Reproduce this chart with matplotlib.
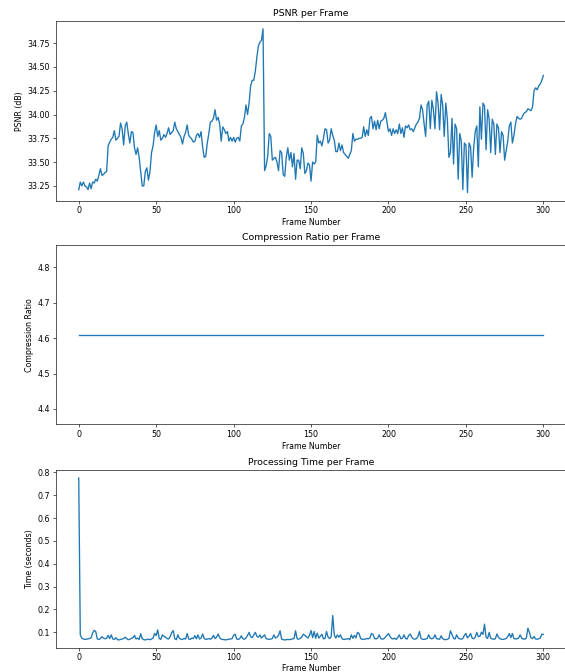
import matplotlib
matplotlib.use("Agg")
import matplotlib.pyplot as plt
import numpy as np

frames = np.arange(301)

psnr = [
    33.21, 33.29, 33.25, 33.29, 33.25, 33.24, 33.21, 33.28, 33.22, 33.29,
    33.28, 33.32, 33.30, 33.36, 33.43, 33.36, 33.37, 33.39, 33.40, 33.67,
    33.71, 33.74, 33.76, 33.83, 33.73, 33.75, 33.77, 33.91, 33.85, 33.68,
    33.88, 33.92, 33.80, 33.70, 33.82, 33.81, 33.65, 33.58, 33.65, 33.55,
    33.40, 33.25, 33.25, 33.40, 33.44, 33.31, 33.40, 33.60, 33.67, 33.81,
    33.89, 33.77, 33.83, 33.73, 33.75, 33.79, 33.76, 33.80, 33.86, 33.79,
    33.81, 33.83, 33.92, 33.85, 33.82, 33.79, 33.76, 33.69, 33.77, 33.81,
    33.89, 33.78, 33.76, 33.74, 33.71, 33.72, 33.78, 33.80, 33.76, 33.82,
    33.66, 33.55, 33.56, 33.70, 33.80, 33.92, 33.93, 33.96, 34.05, 33.94,
    33.97, 33.90, 33.72, 33.87, 33.84, 33.80, 33.82, 33.72, 33.76, 33.72,
    33.76, 33.71, 33.75, 33.76, 33.72, 33.88, 33.90, 33.97, 34.10, 34.00,
    34.12, 34.30, 34.36, 34.36, 34.45, 34.60, 34.72, 34.76, 34.78, 34.90,
    33.41, 33.46, 33.56, 33.80, 33.77, 33.52, 33.54, 33.55, 33.50, 33.41,
    33.62, 33.60, 33.37, 33.35, 33.55, 33.65, 33.52, 33.60, 33.45, 33.59,
    33.32, 33.52, 33.52, 33.43, 33.65, 33.59, 33.38, 33.41, 33.49, 33.47,
    33.30, 33.50, 33.48, 33.50, 33.78, 33.70, 33.72, 33.67, 33.75, 33.85,
    33.84, 33.70, 33.73, 33.85, 33.78, 33.73, 33.61, 33.61, 33.70, 33.62,
    33.68, 33.60, 33.58, 33.56, 33.54, 33.58, 33.62, 33.80, 33.72, 33.74,
    33.74, 33.75, 33.75, 33.76, 33.87, 33.77, 33.84, 33.78, 33.96, 33.98,
    33.85, 33.93, 33.84, 33.94, 33.85, 33.93, 33.94, 33.96, 34.02, 33.92,
    33.82, 33.85, 33.78, 33.85, 33.80, 33.84, 33.80, 33.90, 33.80, 33.86,
    33.76, 33.88, 33.86, 33.89, 33.84, 33.85, 33.82, 33.86, 33.90, 33.92,
    33.96, 34.10, 34.05, 33.90, 33.77, 34.10, 34.14, 33.85, 34.15, 34.05,
    33.85, 34.24, 34.12, 33.84, 34.21, 34.10, 33.77, 34.12, 33.95, 33.55,
    33.60, 33.96, 33.48, 33.90, 33.85, 33.32, 33.80, 33.72, 33.21, 33.70,
    33.68, 33.18, 33.70, 33.66, 33.34, 33.65, 33.82, 33.88, 33.45, 34.08,
    33.74, 34.12, 34.09, 33.63, 34.05, 33.95, 33.60, 33.95, 33.90, 33.58,
    33.90, 33.86, 33.60, 33.82, 33.78, 33.52, 33.62, 33.72, 33.88, 33.92,
    33.70, 33.78, 33.90, 33.98, 33.96, 33.95, 33.96, 34.00, 34.02, 34.03,
    34.06, 34.05, 34.04, 34.08, 34.25, 34.28, 34.26, 34.30, 34.32, 34.36,
    34.41,
]

ratio_value = 4.61
compression = [ratio_value] * len(frames)

proc_time = [
    0.775, 0.088, 0.074, 0.070, 0.068, 0.069, 0.071, 0.072, 0.075, 0.097,
    0.108, 0.102, 0.070, 0.068, 0.072, 0.080, 0.074, 0.071, 0.073, 0.086,
    0.072, 0.088, 0.070, 0.068, 0.076, 0.067, 0.066, 0.068, 0.070, 0.072,
    0.078, 0.071, 0.067, 0.069, 0.073, 0.075, 0.086, 0.070, 0.074, 0.068,
    0.093, 0.071, 0.067, 0.066, 0.068, 0.069, 0.067, 0.070, 0.074, 0.094,
    0.085, 0.110, 0.072, 0.068, 0.088, 0.082, 0.078, 0.072, 0.070, 0.080,
    0.098, 0.107, 0.071, 0.067, 0.088, 0.073, 0.069, 0.068, 0.072, 0.070,
    0.094, 0.070, 0.068, 0.074, 0.072, 0.085, 0.071, 0.088, 0.070, 0.074,
    0.092, 0.073, 0.068, 0.070, 0.072, 0.069, 0.074, 0.086, 0.072, 0.078,
    0.092, 0.076, 0.069, 0.068, 0.067, 0.066, 0.068, 0.069, 0.070, 0.072,
    0.086, 0.091, 0.070, 0.068, 0.072, 0.084, 0.071, 0.069, 0.075, 0.086,
    0.099, 0.080, 0.076, 0.088, 0.099, 0.082, 0.078, 0.088, 0.074, 0.081,
    0.088, 0.072, 0.069, 0.068, 0.070, 0.072, 0.088, 0.074, 0.078, 0.086,
    0.106, 0.070, 0.067, 0.066, 0.067, 0.068, 0.067, 0.069, 0.070, 0.072,
    0.106, 0.071, 0.069, 0.073, 0.078, 0.091, 0.086, 0.080, 0.074, 0.086,
    0.107, 0.076, 0.103, 0.073, 0.096, 0.074, 0.082, 0.091, 0.071, 0.072,
    0.103, 0.078, 0.072, 0.080, 0.173, 0.088, 0.074, 0.088, 0.078, 0.088,
    0.071, 0.068, 0.069, 0.070, 0.072, 0.067, 0.088, 0.073, 0.086, 0.075,
    0.099, 0.094, 0.072, 0.069, 0.068, 0.070, 0.072, 0.071, 0.074, 0.094,
    0.090, 0.072, 0.070, 0.074, 0.088, 0.072, 0.069, 0.071, 0.078, 0.086,
    0.094, 0.081, 0.072, 0.070, 0.074, 0.068, 0.077, 0.088, 0.071, 0.074,
    0.088, 0.072, 0.070, 0.085, 0.092, 0.078, 0.071, 0.069, 0.072, 0.080,
    0.103, 0.072, 0.069, 0.068, 0.070, 0.072, 0.088, 0.073, 0.071, 0.074,
    0.088, 0.072, 0.070, 0.069, 0.084, 0.071, 0.068, 0.067, 0.069, 0.072,
    0.106, 0.090, 0.073, 0.070, 0.088, 0.074, 0.071, 0.069, 0.072, 0.086,
    0.094, 0.075, 0.082, 0.094, 0.074, 0.071, 0.078, 0.099, 0.080, 0.082,
    0.100, 0.090, 0.135, 0.078, 0.072, 0.099, 0.074, 0.070, 0.069, 0.071,
    0.092, 0.078, 0.071, 0.069, 0.068, 0.070, 0.072, 0.080, 0.094, 0.076,
    0.094, 0.072, 0.070, 0.071, 0.074, 0.088, 0.073, 0.070, 0.069, 0.074,
    0.117, 0.098, 0.075, 0.072, 0.081, 0.070, 0.069, 0.071, 0.074, 0.091,
    0.090,
]

W, H = 565, 672
dpi = 56.5
fig = plt.figure(figsize=(W / dpi, H / dpi), dpi=dpi)

def box(top, bottom, left=55.5, right=566.6):
    # pixel box -> figure fraction
    return [left / W, 1 - bottom / H, (right - left) / W, (bottom - top) / H]

lw = 1.7

ax1 = fig.add_axes(box(20.7, 200.7))
ax1.plot(frames, psnr, lw=lw)
ax1.set_title("PSNR per Frame")
ax1.set_xlabel("Frame Number")
ax1.set_ylabel("PSNR (dB)")

ax2 = fig.add_axes(box(245, 424.3))
ax2.plot(frames, compression, lw=lw)
ax2.set_title("Compression Ratio per Frame")
ax2.set_xlabel("Frame Number")
ax2.set_ylabel("Compression Ratio")

ax3 = fig.add_axes(box(470, 648))
ax3.plot(frames, proc_time, lw=lw)
ax3.set_title("Processing Time per Frame")
ax3.set_xlabel("Frame Number", labelpad=2)
ax3.set_ylabel("Time (seconds)")

fig.savefig("out.png", dpi=dpi)
